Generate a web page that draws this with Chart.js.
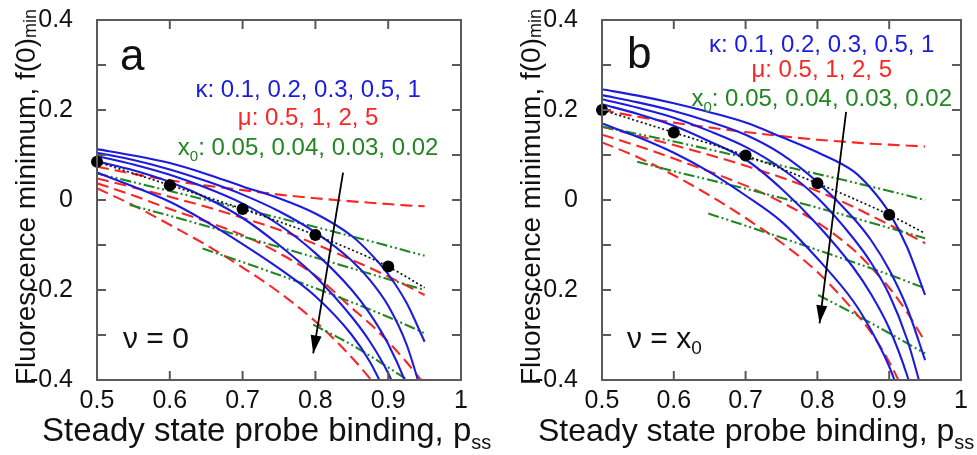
<!DOCTYPE html>
<html>
<head>
<meta charset="utf-8">
<script src="https://cdn.jsdelivr.net/npm/chart.js@4.4.1/dist/chart.umd.min.js"></script>
<style>
  body { margin: 0; background: #fff; }
  .panel { position: absolute; top: 0; height: 455px; }
</style>
</head>
<body>
<div class="panel" style="left:0;width:520px"><canvas id="chartA"></canvas></div>
<div class="panel" style="left:490px;width:487px"><canvas id="chartB"></canvas></div>
<script>
// ===== DATA =====
const pssGrid = [0.5, 0.55, 0.6, 0.65, 0.7, 0.75, 0.8, 0.85, 0.875, 0.9, 0.925, 0.95];
const xTickValues = [0.5, 0.6, 0.7, 0.8, 0.9, 1];
const xTickLabels = ["0.5", "0.6", "0.7", "0.8", "0.9", "1"];
const yTickValues = [-0.4, -0.3, -0.2, -0.1, 0, 0.1, 0.2, 0.3, 0.4];
const yTickLabels = ["-0.4", "", "-0.2", "", "0", "", "0.2", "", "0.4"];
const kappaLabels = ["0.1", "0.2", "0.3", "0.5", "1"];
const muLabels = ["0.5", "1", "2", "5"];
const x0Labels = ["0.05", "0.04", "0.03", "0.02"];

// panel a, nu = 0 (values on pssGrid)
const aK1 = [0.113, 0.099, 0.082, 0.058, 0.030, 0.004, -0.030, -0.080, -0.118, -0.165, -0.228, -0.315];
const aK2 = [0.105, 0.089, 0.068, 0.042, 0.012, -0.025, -0.072, -0.135, -0.178, -0.235, -0.320, -0.450];
const aK3 = [0.098, 0.079, 0.056, 0.027, -0.008, -0.055, -0.118, -0.200, -0.253, -0.320, -0.410, -0.530];
const aK4 = [0.086, 0.066, 0.040, 0.005, -0.040, -0.100, -0.170, -0.260, -0.315, -0.385, -0.480];
const aK5 = [0.061, 0.030, -0.004, -0.048, -0.098, -0.152, -0.214, -0.300, -0.360, -0.440];
const aMu1 = [0.074, 0.058, 0.044, 0.032, 0.022, 0.012, 0.004, -0.003, -0.006, -0.009, -0.012, -0.014];
const aMu2 = [0.048, 0.028, 0.007, -0.015, -0.040, -0.066, -0.098, -0.133, -0.151, -0.170, -0.190, -0.211];
const aMu3 = [0.037, 0.010, -0.020, -0.048, -0.078, -0.118, -0.168, -0.240, -0.275, -0.315, -0.360, -0.410];
const aMu4 = [0.026, -0.012, -0.055, -0.100, -0.150, -0.205, -0.270, -0.350, -0.397, -0.450];
const aX01Pss = [0.5, 0.6, 0.7, 0.8, 0.9, 0.95];
const aX01 = [0.059, 0.020, -0.020, -0.060, -0.102, -0.124];
const aX02Pss = [0.545, 0.6, 0.7, 0.8, 0.9, 0.95];
const aX02 = [-0.011, -0.035, -0.081, -0.128, -0.176, -0.200];
const aX03Pss = [0.645, 0.7, 0.8, 0.9, 0.95];
const aX03 = [-0.108, -0.138, -0.196, -0.260, -0.296];
const aX04Pss = [0.797, 0.85, 0.9, 0.95];
const aX04 = [-0.277, -0.322, -0.372, -0.425];
const aDotPss = [0.5, 0.6, 0.7, 0.8, 0.9];
const aDotF = [0.085, 0.033, -0.020, -0.078, -0.148];
const aPathPss = [0.5, 0.6, 0.7, 0.8, 0.9, 0.95];
const aPathF = [0.085, 0.033, -0.020, -0.078, -0.148, -0.195];
const aArrowPss = [0.838, 0.797];
const aArrowF = [0.061, -0.341];

// panel b, nu = x0 (values on pssGrid)
const bK1 = [0.246, 0.232, 0.215, 0.195, 0.172, 0.140, 0.106, 0.064, 0.025, -0.028, -0.105, -0.211];
const bK2 = [0.233, 0.217, 0.198, 0.174, 0.145, 0.102, 0.040, -0.040, -0.090, -0.155, -0.240, -0.356];
const bK3 = [0.224, 0.205, 0.183, 0.153, 0.118, 0.070, 0.005, -0.085, -0.140, -0.210, -0.310, -0.450];
const bK4 = [0.213, 0.191, 0.165, 0.130, 0.090, 0.025, -0.055, -0.150, -0.210, -0.285, -0.390, -0.530];
const bK5 = [0.170, 0.140, 0.105, 0.062, 0.010, -0.048, -0.130, -0.225, -0.290, -0.370, -0.480];
const bMu1 = [0.200, 0.185, 0.172, 0.161, 0.151, 0.142, 0.134, 0.128, 0.125, 0.123, 0.121, 0.119];
const bMu2 = [0.163, 0.143, 0.122, 0.100, 0.076, 0.050, 0.020, -0.015, -0.035, -0.055, -0.075, -0.096];
const bMu3 = [0.145, 0.120, 0.092, 0.063, 0.032, -0.005, -0.050, -0.110, -0.150, -0.195, -0.250, -0.315];
const bMu4 = [0.128, 0.095, 0.055, 0.010, -0.040, -0.095, -0.160, -0.245, -0.295, -0.360, -0.440];
const bX01Pss = [0.5, 0.6, 0.7, 0.8, 0.9, 0.95];
const bX01 = [0.163, 0.130, 0.094, 0.058, 0.020, 0.000];
const bX02Pss = [0.549, 0.6, 0.7, 0.8, 0.9, 0.95];
const bX02 = [0.085, 0.064, 0.025, -0.017, -0.062, -0.085];
const bX03Pss = [0.648, 0.7, 0.8, 0.9, 0.95];
const bX03 = [-0.030, -0.057, -0.111, -0.166, -0.196];
const bX04Pss = [0.801, 0.85, 0.9, 0.95];
const bX04 = [-0.211, -0.252, -0.296, -0.341];
const bDotPss = [0.5, 0.6, 0.7, 0.8, 0.9];
const bDotF = [0.200, 0.150, 0.099, 0.037, -0.033];
const bPathPss = [0.5, 0.6, 0.7, 0.8, 0.9, 0.95];
const bPathF = [0.200, 0.150, 0.099, 0.037, -0.033, -0.074];
const bArrowPss = [0.840, 0.803];
const bArrowF = [0.196, -0.274];

// ===== STYLE =====
const FONT = "'Liberation Sans', Arial, Helvetica, sans-serif";
const BLUE = "rgb(28,28,222)";
const RED = "rgb(250,38,38)";
const GREEN = "rgb(34,134,34)";
Chart.defaults.font.family = FONT;
Chart.defaults.color = "#111";

function pts(xs, ys) {
  const out = [];
  for (let i = 0; i < ys.length; i++) out.push({ x: xs[i], y: ys[i] });
  return out;
}

function curve(data, color, dash, width) {
  return {
    data, borderColor: color, borderDash: dash, borderWidth: width,
    pointRadius: 0, cubicInterpolationMode: "monotone", fill: false, clip: 0
  };
}

function buildDatasets(p) {
  const sets = [];
  sets.push({ data: pts(p.dotPss, p.dotF), showLine: false, pointRadius: 6,
    pointBackgroundColor: "#000", pointBorderWidth: 0, clip: false });
  sets.push(curve(pts(p.pathPss, p.pathF), "#111", [2, 2.5], 1.7));
  sets.push({ data: pts(p.arrowPss, p.arrowF), borderColor: "#000", borderWidth: 1.8,
    pointRadius: 0, tension: 0, clip: false });
  p.kappa.forEach(ys => sets.push(curve(pts(pssGrid, ys), BLUE, [], 2.1)));
  p.x0.forEach(([xs, ys]) => sets.push(curve(pts(xs, ys), GREEN, [11, 3, 2, 3, 2, 3], 2.1)));
  p.mu.forEach(ys => sets.push(curve(pts(pssGrid, ys), RED, [12, 6], 2.1)));
  return sets;
}

// text made of pieces, some of them subscripts
function drawRich(ctx, parts, x, y, align) {
  let w = 0;
  parts.forEach(q => { ctx.font = q.size + "px " + FONT; q.w = ctx.measureText(q.t).width; w += q.w; });
  let cx = align === "center" ? x - w / 2 : align === "right" ? x - w : x;
  ctx.textAlign = "left";
  ctx.textBaseline = "alphabetic";
  parts.forEach(q => {
    ctx.font = q.size + "px " + FONT;
    ctx.fillText(q.t, cx, y + (q.dy || 0));
    cx += q.w;
  });
}

const panelDeco = {
  id: "panelDeco",
  afterDraw(chart, args, o) {
    const ctx = chart.ctx;
    const a = chart.chartArea;
    const xs = chart.scales.x, ys = chart.scales.y;
    ctx.save();
    ctx.setLineDash([]);
    ctx.globalAlpha = 1;

    // arrow head
    const ap = chart.getDatasetMeta(o.arrowIndex).data;
    const p0 = ap[0], p1 = ap[1];
    const ang = Math.atan2(p1.y - p0.y, p1.x - p0.x);
    ctx.fillStyle = "#000";
    ctx.beginPath();
    ctx.moveTo(p1.x, p1.y);
    ctx.lineTo(p1.x - 18 * Math.cos(ang) + 5.5 * Math.sin(ang), p1.y - 18 * Math.sin(ang) - 5.5 * Math.cos(ang));
    ctx.lineTo(p1.x - 18 * Math.cos(ang) - 5.5 * Math.sin(ang), p1.y - 18 * Math.sin(ang) + 5.5 * Math.cos(ang));
    ctx.closePath();
    ctx.fill();

    // frame with inward ticks
    ctx.strokeStyle = "#5a5a5a";
    ctx.lineWidth = 2;
    ctx.beginPath();
    ctx.moveTo(a.left, a.top);
    ctx.lineTo(a.right, a.top);
    ctx.lineTo(a.right, a.bottom);
    ctx.lineTo(a.left, a.bottom);
    ctx.closePath();
    xs.ticks.forEach(t => {
      const px = xs.getPixelForValue(t.value);
      ctx.moveTo(px, a.bottom); ctx.lineTo(px, a.bottom - 9);
      ctx.moveTo(px, a.top); ctx.lineTo(px, a.top + 9);
    });
    ys.ticks.forEach(t => {
      const py = ys.getPixelForValue(t.value);
      ctx.moveTo(a.left, py); ctx.lineTo(a.left + 9, py);
      ctx.moveTo(a.right, py); ctx.lineTo(a.right - 9, py);
    });
    ctx.stroke();

    // panel letter
    ctx.fillStyle = "#111";
    drawRich(ctx, [{ t: o.letter, size: 44 }], a.left + o.letterDx, a.top + o.letterDy, "left");

    // parameter lists
    const lx = xs.getPixelForValue(o.legendPss);
    ctx.fillStyle = BLUE;
    drawRich(ctx, [{ t: "\u03ba: " + kappaLabels.join(", "), size: 24 }], lx, a.top + o.legendDy[0], "center");
    ctx.fillStyle = RED;
    drawRich(ctx, [{ t: "\u03bc: " + muLabels.join(", "), size: 24 }], lx, a.top + o.legendDy[1], "center");
    ctx.fillStyle = GREEN;
    drawRich(ctx, [{ t: "x", size: 24 }, { t: "0", size: 15, dy: 6 },
      { t: ": " + x0Labels.join(", "), size: 24 }], lx, a.top + o.legendDy[2], "center");

    // nu label
    ctx.fillStyle = "#111";
    drawRich(ctx, o.nuParts, a.left + o.nuDx, a.bottom - o.nuDy, "left");

    // axis titles
    drawRich(ctx, [{ t: "Steady state probe binding, p", size: o.xTitleSize },
      { t: "ss", size: 20, dy: 8 }], a.left - o.xTitleDx, 441, "left");
    ctx.translate(a.left - 62, (a.top + a.bottom) / 2 - 3);
    ctx.rotate(-Math.PI / 2);
    drawRich(ctx, [{ t: "Fluorescence minimum, f(0)", size: 28 },
      { t: "min", size: 18, dy: 1 }], 0, 0, "center");
    ctx.restore();
  }
};

function makeChart(id, p) {
  return new Chart(document.getElementById(id), {
    type: "line",
    data: { datasets: buildDatasets(p) },
    options: {
      animation: false,
      responsive: true,
      maintainAspectRatio: false,
      layout: { padding: { left: 0, top: 20, right: p.padRight, bottom: 0 } },
      plugins: { legend: { display: false }, tooltip: { enabled: false }, panelDeco: p.deco },
      scales: {
        x: {
          type: "linear", min: 0.5, max: 1,
          grid: { display: false, drawTicks: false }, border: { display: false },
          afterBuildTicks: s => { s.ticks = xTickValues.map(v => ({ value: v })); },
          afterFit: s => { s.height = 75; s.paddingLeft = 0; s.paddingRight = 0; },
          ticks: { autoSkip: false, maxRotation: 0, padding: 6, font: { size: 25 }, color: "#111",
            callback: (v, i) => xTickLabels[i] }
        },
        y: {
          type: "linear", min: -0.4, max: 0.4,
          grid: { display: false, drawTicks: false }, border: { display: false },
          afterBuildTicks: s => { s.ticks = yTickValues.map(v => ({ value: v })); },
          afterFit: s => { s.width = p.axisWidth; s.paddingTop = 0; s.paddingBottom = 0; },
          ticks: { autoSkip: false, padding: 24, font: { size: 25 }, color: "#111",
            callback: (v, i) => yTickLabels[i] }
        }
      }
    },
    plugins: [panelDeco]
  });
}

makeChart("chartA", {
  kappa: [aK1, aK2, aK3, aK4, aK5],
  mu: [aMu1, aMu2, aMu3, aMu4],
  x0: [[aX01Pss, aX01], [aX02Pss, aX02], [aX03Pss, aX03], [aX04Pss, aX04]],
  dotPss: aDotPss, dotF: aDotF, pathPss: aPathPss, pathF: aPathF,
  arrowPss: aArrowPss, arrowF: aArrowF,
  axisWidth: 97, padRight: 59,
  deco: { arrowIndex: 2, letter: "a", letterDx: 23, letterDy: 50, legendPss: 0.79,
    legendDy: [77, 105, 135], nuDx: 26, nuDy: 32, xTitleSize: 33, xTitleDx: 55,
    nuParts: [{ t: "\u03bd = 0", size: 30 }] }
});

makeChart("chartB", {
  kappa: [bK1, bK2, bK3, bK4, bK5],
  mu: [bMu1, bMu2, bMu3, bMu4],
  x0: [[bX01Pss, bX01], [bX02Pss, bX02], [bX03Pss, bX03], [bX04Pss, bX04]],
  dotPss: bDotPss, dotF: bDotF, pathPss: bPathPss, pathF: bPathF,
  arrowPss: bArrowPss, arrowF: bArrowF,
  axisWidth: 112, padRight: 16,
  deco: { arrowIndex: 2, letter: "b", letterDx: 25, letterDy: 48, legendPss: 0.806,
    legendDy: [32, 57, 86], nuDx: 25, nuDy: 32, xTitleSize: 32, xTitleDx: 64,
    nuParts: [{ t: "\u03bd = x", size: 30 }, { t: "0", size: 19, dy: 6 }] }
});
</script>
</body>
</html>
